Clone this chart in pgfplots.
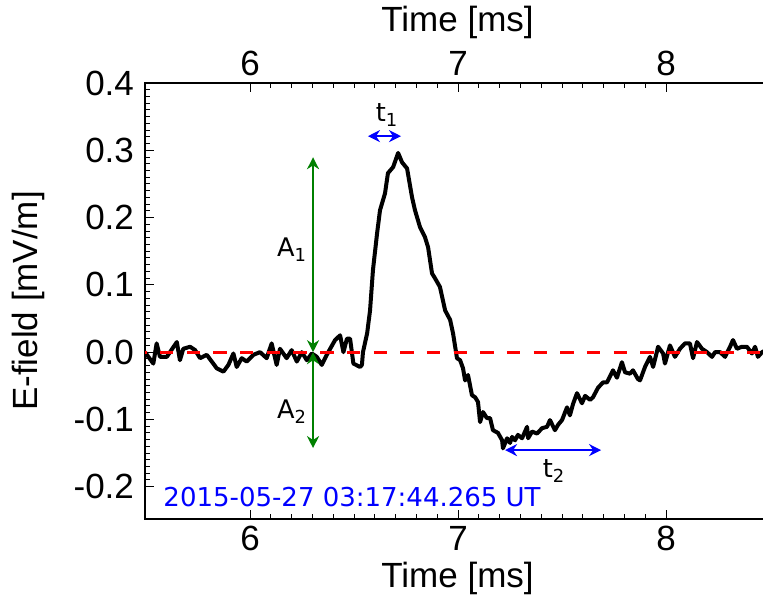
\documentclass[border=0pt]{standalone}
\usepackage{fontspec}
\setmainfont{Liberation Sans}
\newfontfamily\dejavu{DejaVu Sans}
\usepackage{pgfplots}
\pgfplotsset{compat=1.18}
\usetikzlibrary{arrows.meta}
\definecolor{mplgreen}{RGB}{0,128,0}
\pgfplotstableread{
t E
5.495 0.000
5.535 -0.017
5.551 0.013
5.567 -0.007
5.600 -0.007
5.648 0.015
5.663 -0.012
5.679 0.005
5.712 0.008
5.736 0.003
5.760 -0.009
5.792 -0.004
5.816 -0.014
5.840 -0.024
5.872 -0.029
5.896 -0.019
5.920 -0.002
5.936 -0.022
5.960 -0.009
5.984 -0.014
6.016 -0.004
6.048 0.000
6.080 -0.009
6.104 0.013
6.128 -0.019
6.144 0.005
6.176 -0.009
6.200 0.003
6.225 -0.014
6.249 0.000
6.273 -0.012
6.297 -0.002
6.321 -0.007
6.345 -0.019
6.369 -0.004
6.409 0.018
6.433 0.025
6.449 0.000
6.466 0.020
6.481 0.020
6.497 -0.017
6.529 -0.022
6.538 -0.019
6.543 0.000
6.563 0.028
6.577 0.062
6.591 0.122
6.611 0.177
6.625 0.211
6.649 0.236
6.663 0.266
6.688 0.275
6.712 0.296
6.731 0.282
6.755 0.273
6.779 0.230
6.793 0.211
6.817 0.186
6.841 0.171
6.856 0.156
6.875 0.117
6.889 0.110
6.913 0.097
6.938 0.062
6.962 0.048
6.976 0.028
6.995 -0.009
7.010 -0.012
7.024 -0.024
7.034 -0.042
7.048 -0.034
7.067 -0.064
7.082 -0.067
7.096 -0.074
7.106 -0.104
7.120 -0.089
7.139 -0.098
7.154 -0.098
7.168 -0.116
7.192 -0.120
7.212 -0.131
7.216 -0.143
7.236 -0.128
7.250 -0.135
7.260 -0.126
7.274 -0.131
7.288 -0.123
7.308 -0.128
7.332 -0.111
7.337 -0.128
7.356 -0.118
7.380 -0.121
7.404 -0.113
7.428 -0.111
7.442 -0.101
7.466 -0.116
7.481 -0.108
7.500 -0.101
7.524 -0.082
7.538 -0.094
7.553 -0.077
7.572 -0.061
7.596 -0.076
7.611 -0.065
7.635 -0.071
7.649 -0.067
7.673 -0.053
7.697 -0.045
7.716 -0.045
7.745 -0.027
7.764 -0.038
7.788 -0.015
7.803 -0.030
7.827 -0.032
7.841 -0.027
7.865 -0.040
7.875 -0.042
7.899 -0.022
7.923 -0.007
7.938 -0.022
7.962 0.008
7.986 -0.002
7.995 -0.017
8.019 0.010
8.043 -0.007
8.067 0.005
8.091 0.013
8.115 0.013
8.130 -0.009
8.149 0.015
8.173 0.005
8.197 0.000
8.221 -0.007
8.236 0.000
8.260 0.000
8.284 -0.007
8.308 0.008
8.322 0.018
8.341 0.005
8.365 0.008
8.389 0.008
8.413 -0.002
8.428 0.008
8.442 -0.007
8.462 0.000
8.480 0.003
}\signal
\begin{document}
\begin{tikzpicture}
\useasboundingbox (-72.5pt,-40.5pt) rectangle (309pt,259.5pt);
\pgfplotsset{
  common/.style={
    scale only axis, width=312.5pt, height=218pt,
    xmin=5.495, xmax=8.5, ymin=-0.248, ymax=0.4,
    at={(0pt,0pt)}, anchor=south west,
    xtick={6,7,8}, xticklabels={6,7,8}, minor x tick num=9,
    tick label style={font=\fontsize{17.5}{20}\selectfont},
    label style={font=\fontsize{17.5}{20}\selectfont},
    major tick length=4.5pt, minor tick length=2.5pt,
    every tick/.style={black, line width=0.5pt},
    axis line style={line width=1pt},
    xlabel={Time [ms]},
  },
  arr/.style={line width=1.2pt, {Stealth[length=6pt,width=6pt]}-{Stealth[length=6pt,width=6pt]}},
}
\begin{axis}[common,
  ytick={-0.2,-0.1,0,0.1,0.2,0.3,0.4},
  yticklabels={-0.2,-0.1,0.0,0.1,0.2,0.3,0.4},
  minor y tick num=9,
  ytick pos=left, xtick pos=both, xticklabel pos=bottom,
  yticklabel style={xshift=-2pt},
  ylabel={E-field [mV/m]},
  xlabel style={at={(axis description cs:0.5,-0.1353)}, anchor=center},
  ylabel style={at={(axis description cs:-0.1872,0.5)}, anchor=center},
  clip=true,
]
\addplot[black, line width=2pt, line join=round] table[x=t,y=E]{\signal};
\addplot[red, line width=1.4pt, dash pattern=on 6.67pt off 6.67pt, dash phase=5.8pt] coordinates {(5.495,0) (8.5,0)};
\addplot[mplgreen, arr] coordinates {(6.303,0) (6.303,0.2897)};
\addplot[mplgreen, arr] coordinates {(6.303,0) (6.303,-0.1426)};
\addplot[blue, arr] coordinates {(6.567,0.321) (6.726,0.321)};
\addplot[blue, arr] coordinates {(7.226,-0.1456) (7.688,-0.1456)};
\node[font=\dejavu\fontsize{12.8}{15}\selectfont] at (axis cs:6.202,0.152) {A\textsubscript{1}};
\node[font=\dejavu\fontsize{12.8}{15}\selectfont] at (axis cs:6.202,-0.089) {A\textsubscript{2}};
\node[font=\dejavu\fontsize{12.8}{15}\selectfont] at (axis cs:6.659,0.352) {t\textsubscript{1}};
\node[font=\dejavu\fontsize{12.8}{15}\selectfont] at (axis cs:7.462,-0.177) {t\textsubscript{2}};
\node[font=\dejavu\fontsize{13}{15}\selectfont, text=blue, anchor=west, inner sep=0pt] at (axis cs:5.582,-0.2155) {2015-05-27 03:17:44.265 UT};
\end{axis}
\begin{axis}[common,
  hide y axis, axis x line*=top,
  xlabel style={at={(axis description cs:0.5,1.1399)}, anchor=center},
]
\end{axis}
\end{tikzpicture}
\end{document}
